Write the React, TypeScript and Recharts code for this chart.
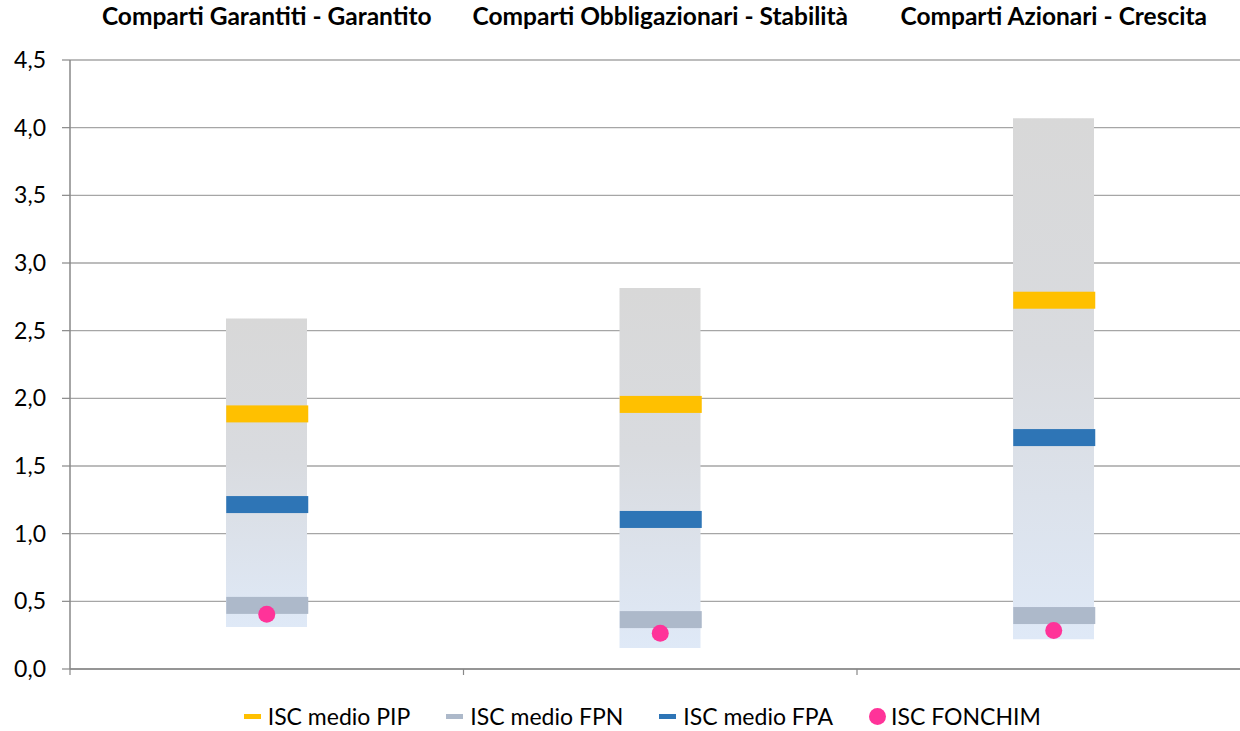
import React from "react"
import { ComposedChart, Bar, Line, XAxis, YAxis, CartesianGrid, Legend } from "recharts"

const categories = [
  "Comparti Garantiti - Garantito",
  "Comparti Obbligazionari - Stabilità",
  "Comparti Azionari - Crescita",
]
const iscMin = [0.31, 0.155, 0.22]
const iscMax = [2.59, 2.815, 4.07]
const iscPip = [1.885, 1.955, 2.725]
const iscFpn = [0.47, 0.365, 0.395]
const iscFpa = [1.215, 1.105, 1.71]
const iscFonchim = [0.405, 0.265, 0.285]
const yTicks = [0, 0.5, 1, 1.5, 2, 2.5, 3, 3.5, 4, 4.5]

const data = categories.map((name, i) => ({
  name,
  pos: i + 0.5,
  range: [iscMin[i], iscMax[i]],
  pip: iscPip[i],
  fpn: iscFpn[i],
  fpa: iscFpa[i],
  fonchim: iscFonchim[i],
}))

const legendItems = [
  { label: "ISC medio PIP", color: "#ffc000", kind: "dash" },
  { label: "ISC medio FPN", color: "#adb9ca", kind: "dash" },
  { label: "ISC medio FPA", color: "#2e75b6", kind: "dash" },
  { label: "ISC FONCHIM", color: "#ff3399", kind: "dot" },
]

const FONT = "Lato, 'Open Sans', sans-serif"
const BAR_W = 81

// horizontal band marker drawn on each category
const band = (color: string) => (props: any) => {
  const { cx, cy, index } = props
  if (cx == null || cy == null) return <g key={index} />
  return <rect key={index} x={cx - BAR_W / 2} y={cy - 8.5} width={BAR_W + 1} height={17} fill={color} />
}

const pinkDot = (props: any) => {
  const { cx, cy, index } = props
  if (cx == null || cy == null) return <g key={index} />
  return <circle key={index} cx={cx} cy={cy} r={8.5} fill="#ff3399" />
}

const CategoryTick = (props: any) => {
  const { x, y, payload } = props
  return (
    <text x={x} y={y - 27} textAnchor="middle" fontFamily={FONT} fontWeight={700} fontSize={24.5} fill="#000">
      {payload.value}
    </text>
  )
}

const LegendContent = () => (
  <div
    style={{
      display: "flex",
      justifyContent: "center",
      alignItems: "center",
      height: 30,
      paddingLeft: 34,
      fontFamily: FONT,
      fontSize: 23,
      color: "#000",
    }}
  >
    {legendItems.map((it) => (
      <div key={it.label} style={{ display: "flex", alignItems: "center", margin: "0 18px" }}>
        {it.kind === "dash" ? (
          <span style={{ display: "inline-block", width: 17, height: 5, background: it.color, marginRight: 7 }} />
        ) : (
          <span
            style={{ display: "inline-block", width: 17, height: 17, borderRadius: 9, background: it.color, marginRight: 5 }}
          />
        )}
        <span>{it.label}</span>
      </div>
    ))}
  </div>
)

export default function App() {
  return (
    <div style={{ width: 1240, height: 731, overflow: "hidden", background: "#fff" }}>
      <style>{`body{margin:0}`}</style>
      <ComposedChart width={1252} height={731} data={data} margin={{ top: 0, right: 1.5, bottom: 0, left: 0 }}>
        <defs>
          <linearGradient id="rangeFill" x1="0" y1="0" x2="0" y2="1">
            <stop offset="0%" stopColor="#d8d8d8" />
            <stop offset="45%" stopColor="#d9dbdf" />
            <stop offset="100%" stopColor="#dfe9f7" />
          </linearGradient>
        </defs>
        <CartesianGrid vertical={false} stroke="#a6a6a6" strokeWidth={1.3} yAxisId="y" xAxisId="cat" />
        <XAxis
          xAxisId="cat"
          dataKey="name"
          orientation="top"
          height={60}
          axisLine={false}
          tickLine={false}
          tick={<CategoryTick />}
          interval={0}
        />
        <XAxis
          xAxisId="bot"
          type="number"
          dataKey="pos"
          domain={[0, 3]}
          ticks={[0, 1, 2, 3]}
          orientation="bottom"
          height={32}
          axisLine={{ stroke: "#888", strokeWidth: 1.5 }}
          tickLine={{ stroke: "#888", strokeWidth: 1.2 }}
          tickSize={6}
          tickFormatter={() => ""}
        />
        <YAxis
          yAxisId="y"
          domain={[0, 4.5]}
          ticks={yTicks}
          width={70}
          axisLine={{ stroke: "#888", strokeWidth: 1.5 }}
          tickLine={{ stroke: "#888", strokeWidth: 1.2 }}
          tickSize={8}
          tickMargin={16}
          tick={{ fontFamily: FONT, fontSize: 23, fill: "#000" }}
          tickFormatter={(v: number) => v.toFixed(1).replace(".", ",")}
        />
        <Legend verticalAlign="bottom" content={<LegendContent />} />
        <Bar
          xAxisId="cat"
          yAxisId="y"
          dataKey="range"
          barSize={BAR_W}
          fill="url(#rangeFill)"
          isAnimationActive={false}
          legendType="none"
        />
        <Line
          xAxisId="cat"
          yAxisId="y"
          dataKey="fpn"
          stroke="none"
          dot={band("#adb9ca")}
          activeDot={false}
          isAnimationActive={false}
        />
        <Line
          xAxisId="cat"
          yAxisId="y"
          dataKey="fpa"
          stroke="none"
          dot={band("#2e75b6")}
          activeDot={false}
          isAnimationActive={false}
        />
        <Line
          xAxisId="cat"
          yAxisId="y"
          dataKey="pip"
          stroke="none"
          dot={band("#ffc000")}
          activeDot={false}
          isAnimationActive={false}
        />
        <Line
          xAxisId="cat"
          yAxisId="y"
          dataKey="fonchim"
          stroke="none"
          dot={pinkDot}
          activeDot={false}
          isAnimationActive={false}
        />
      </ComposedChart>
    </div>
  )
}
